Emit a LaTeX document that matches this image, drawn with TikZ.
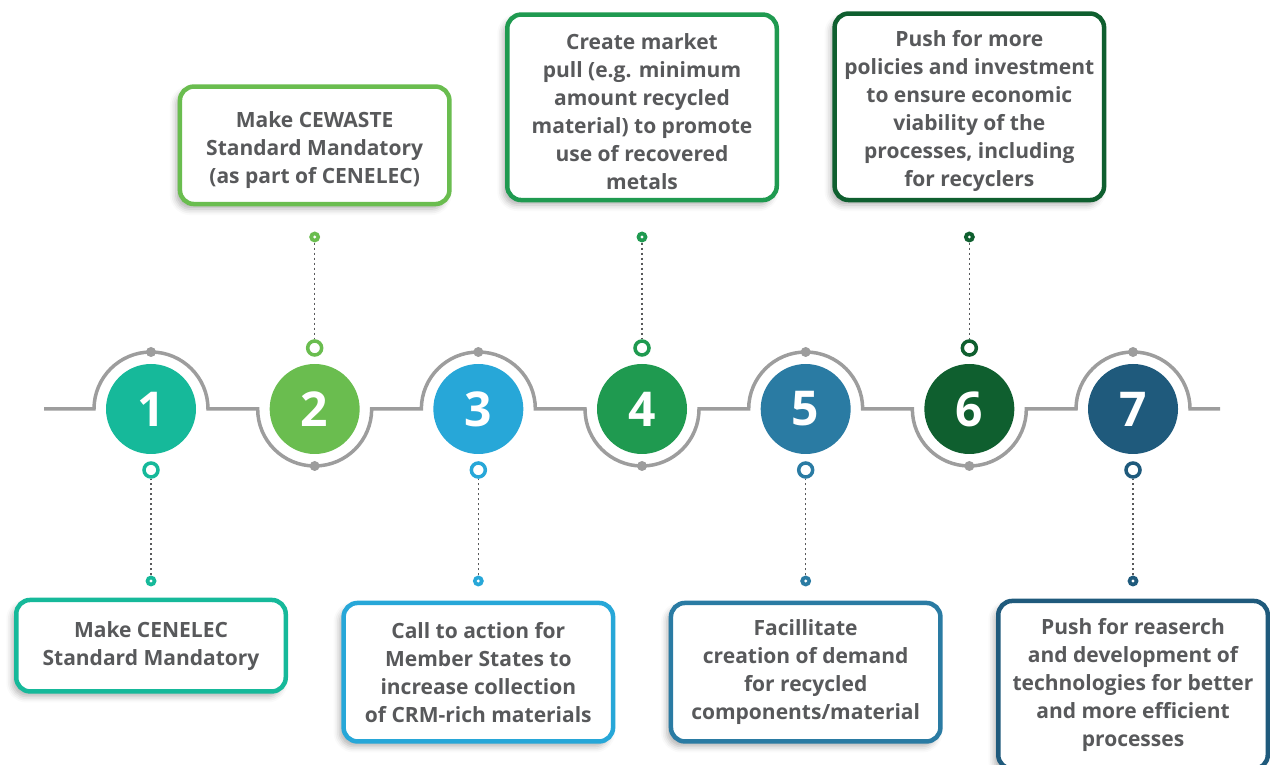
\documentclass[tikz,border=0pt]{standalone}
\usepackage{fontspec}
\setmainfont{Open Sans}
\usetikzlibrary{positioning,shadows.blur}

\definecolor{c1}{HTML}{16B99A}
\definecolor{c2}{HTML}{6ABD4F}
\definecolor{c3}{HTML}{27A7D8}
\definecolor{c4}{HTML}{1F9A50}
\definecolor{c5}{HTML}{2A7BA3}
\definecolor{c6}{HTML}{0F5F2F}
\definecolor{c7}{HTML}{1F5A7C}
\definecolor{linegray}{HTML}{9D9D9D}
\definecolor{textgray}{HTML}{58595B}

\tikzset{
  num/.style={circle, fill=#1, minimum size=90pt, inner sep=0pt, text=white,
    font=\fontsize{48}{48}\selectfont\bfseries},
  ring/.style={circle, draw=#1, line width=3.5pt, fill=white, minimum size=14pt, inner sep=0pt},
  tip/.style={circle, fill=#1, minimum size=11pt, inner sep=0pt,
    path picture={\fill[white] (path picture bounding box.center) circle (1.6pt);}},
  knob/.style={circle, fill=linegray, minimum size=10pt, inner sep=0pt},
  card/.style={draw=#1, line width=4.5pt, rounded corners=14pt, fill=white,
    minimum width=269.5pt, align=center, text=textgray,
    font=\fontsize{21}{28}\selectfont\bfseries,
    blur shadow={shadow xshift=-4pt, shadow yshift=-5pt, shadow blur radius=6pt, shadow opacity=30}},
  track/.style={draw=linegray, line width=3.5pt},
  link/.style={draw=textgray, line width=1.4pt, dash pattern=on 2.5pt off 2.5pt},
}

\begin{document}
\begin{tikzpicture}[x=1pt, y=1pt, node distance=163.67pt]
  \useasboundingbox (0,0) rectangle (1270,764);

  % number circles
  \node[num=c1] (n1) at (151,355) {1};
  \node[num=c2] (n2) [right of=n1] {2};
  \node[num=c3] (n3) [right of=n2] {3};
  \node[num=c4] (n4) [right of=n3] {4};
  \node[num=c5] (n5) [right of=n4] {5};
  \node[num=c6] (n6) [right of=n5] {6};
  \node[num=c7] (n7) [right of=n6] {7};

  % the line going round the circles
  \path[track] (44,355) -- ([xshift=-57pt]n1.center) arc[start angle=180, end angle=0, radius=57pt]
    -- ([xshift=-57pt]n2.center) arc[start angle=180, end angle=360, radius=57pt]
    -- ([xshift=-57pt]n3.center) arc[start angle=180, end angle=0, radius=57pt]
    -- ([xshift=-57pt]n4.center) arc[start angle=180, end angle=360, radius=57pt]
    -- ([xshift=-57pt]n5.center) arc[start angle=180, end angle=0, radius=57pt]
    -- ([xshift=-57pt]n6.center) arc[start angle=180, end angle=360, radius=57pt]
    -- ([xshift=-57pt]n7.center) arc[start angle=180, end angle=0, radius=57pt]
    -- (1220,355);

  \node[knob] (k1) [above of=n1, node distance=57pt] {};
  \node[knob] (k2) [below of=n2, node distance=57pt] {};
  \node[knob] (k3) [above of=n3, node distance=57pt] {};
  \node[knob] (k4) [below of=n4, node distance=57pt] {};
  \node[knob] (k5) [above of=n5, node distance=57pt] {};
  \node[knob] (k6) [below of=n6, node distance=57pt] {};
  \node[knob] (k7) [above of=n7, node distance=57pt] {};

  % rings and tips
  \node[ring=c1] (r1) [below of=n1, node distance=61pt] {};
  \node[ring=c2] (r2) [above of=n2, node distance=61pt] {};
  \node[ring=c3] (r3) [below of=n3, node distance=61pt] {};
  \node[ring=c4] (r4) [above of=n4, node distance=61pt] {};
  \node[ring=c5] (r5) [below of=n5, node distance=61pt] {};
  \node[ring=c6] (r6) [above of=n6, node distance=61pt] {};
  \node[ring=c7] (r7) [below of=n7, node distance=61pt] {};

  \node[tip=c1] (t1) [below of=r1, node distance=111pt] {};
  \node[tip=c2] (t2) [above of=r2, node distance=111pt] {};
  \node[tip=c3] (t3) [below of=r3, node distance=111pt] {};
  \node[tip=c4] (t4) [above of=r4, node distance=111pt] {};
  \node[tip=c5] (t5) [below of=r5, node distance=111pt] {};
  \node[tip=c6] (t6) [above of=r6, node distance=111pt] {};
  \node[tip=c7] (t7) [below of=r7, node distance=111pt] {};

  \path[link] (t1) -- (r1)  (t2) -- (r2)  (t3) -- (r3)  (t4) -- (r4)
              (t5) -- (r5)  (t6) -- (r6)  (t7) -- (r7);

  % cards
  \node[card=c1, minimum height=91.5pt] (b1) [below=11pt of t1]
    {Make CENELEC\\Standard Mandatory};
  \node[card=c2, minimum height=117.5pt, text height=81pt] (b2) [above=25pt of t2]
    {Make CEWASTE\\Standard Mandatory\\(as part of CENELEC)};
  \node[card=c3, minimum height=138.5pt] (b3) [below=14pt of t3]
    {Call to action for\\Member States to\\increase collection\\of CRM-rich materials};
  \node[card=c4, minimum height=185.5pt, text height=165pt] (b4) [above=29pt of t4]
    {Create market\\pull (e.g. minimum\\amount recycled\\material) to promote\\use of recovered\\metals};
  \node[card=c5, minimum height=138.5pt] (b5) [below=14pt of t5]
    {Facillitate\\creation of demand\\for recycled\\components/material};
  \node[card=c6, minimum height=186.5pt, text height=165pt] (b6) [above=29pt of t6]
    {Push for more\\policies and investment\\to ensure economic\\viability of the\\processes, including\\for recyclers};
  \node[card=c7, minimum height=168pt] (b7) [below=12pt of t7]
    {Push for reaserch\\and development of\\technologies for better\\and more efficient\\processes};
\end{tikzpicture}
\end{document}
